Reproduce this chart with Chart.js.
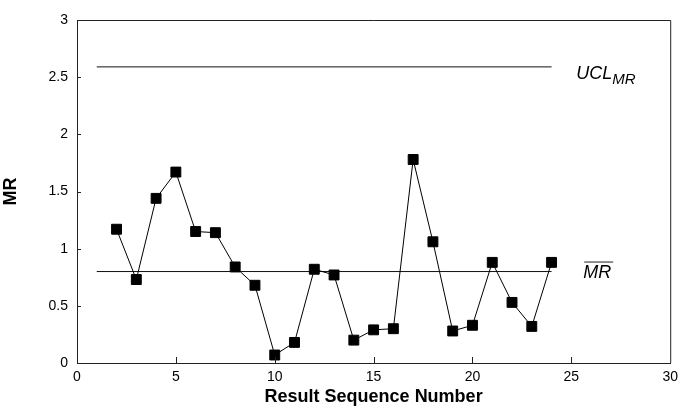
<!DOCTYPE html>
<html><head><meta charset="utf-8">
<script src="https://cdn.jsdelivr.net/npm/chart.js@4"></script>
<style>html,body{margin:0;padding:0;background:#fff}#c{display:block}</style>
</head><body>
<canvas id="c" width="684" height="408"></canvas>
<script>
const sequence = [2,3,4,5,6,7,8,9,10,11,12,13,14,15,16,17,18,19,20,21,22,23,24];
const mrValues = [1.17,0.73,1.44,1.67,1.15,1.14,0.84,0.68,0.07,0.18,0.82,0.77,0.20,0.29,0.30,1.78,1.06,0.28,0.33,0.88,0.53,0.32,0.88];
const uclValue = 2.59;
const mrBar = 0.80;
const lineRange = [1, 24];
const xTicks = [0,5,10,15,20,25,30];
const yTicks = [0,0.5,1,1.5,2,2.5,3];

const FONT = "'Liberation Sans', Arial, sans-serif";

const decor = {
  id: 'decor',
  afterDraw(chart) {
    const {ctx, chartArea: a, scales: {x, y}} = chart;
    ctx.save();
    ctx.strokeStyle = '#222';
    ctx.lineWidth = 1;
    ctx.beginPath();
    ctx.moveTo(a.left, a.top + 0.5); ctx.lineTo(a.right + 0.5, a.top + 0.5);
    ctx.lineTo(a.right + 0.5, a.bottom);
    ctx.stroke();
    ctx.beginPath();
    xTicks.forEach(v => {
      if (v <= 0 || v >= 30) return;
      const px = Math.round(x.getPixelForValue(v)) + 0.5;
      ctx.moveTo(px, a.bottom); ctx.lineTo(px, a.bottom - 6);
    });
    yTicks.forEach(v => {
      if (v <= 0 || v >= 3) return;
      const py = Math.round(y.getPixelForValue(v)) + 0.5;
      ctx.moveTo(a.left, py); ctx.lineTo(a.left + 4, py);
    });
    ctx.stroke();
    ctx.fillStyle = '#000';
    ctx.textBaseline = 'alphabetic';
    ctx.textAlign = 'left';
    let lx = x.getPixelForValue(25.25);
    let ly = y.getPixelForValue(uclValue) + 12;
    ctx.font = "italic 18px " + FONT;
    ctx.fillText('UCL', lx, ly);
    const w = ctx.measureText('UCL').width;
    ctx.font = "italic 15px " + FONT;
    ctx.fillText('MR', lx + w, ly + 5);
    lx = x.getPixelForValue(25.6);
    ly = y.getPixelForValue(mrBar) + 6;
    ctx.font = "italic 18px " + FONT;
    ctx.fillText('MR', lx, ly);
    const w2 = ctx.measureText('MR').width;
    ctx.beginPath();
    ctx.moveTo(lx + 1, ly - 15.5); ctx.lineTo(lx + w2 + 2, ly - 15.5);
    ctx.stroke();
    ctx.restore();
  }
};

new Chart(document.getElementById('c'), {
  type: 'scatter',
  data: {
    datasets: [
      {
        data: sequence.map((s, i) => ({x: s, y: mrValues[i]})),
        showLine: true,
        borderColor: '#000',
        borderWidth: 1,
        backgroundColor: '#000',
        pointStyle: 'rect',
        pointRadius: 7,
        pointHoverRadius: 7
      },
      {
        data: lineRange.map(v => ({x: v, y: uclValue})),
        showLine: true, borderColor: '#111', borderWidth: 1, pointRadius: 0
      },
      {
        data: lineRange.map(v => ({x: v, y: mrBar})),
        showLine: true, borderColor: '#111', borderWidth: 1, pointRadius: 0
      }
    ]
  },
  options: {
    responsive: false,
    animation: false,
    events: [],
    layout: {padding: {top: 20, right: 11, left: 0, bottom: 0}},
    plugins: {legend: {display: false}, tooltip: {enabled: false}},
    scales: {
      x: {
        type: 'linear', min: 0, max: 30,
        afterFit(s) { s.height = 45; },
        afterBuildTicks(s) { s.ticks = xTicks.map(v => ({value: v})); },
        grid: {display: false, drawTicks: false},
        border: {display: true, color: '#222', width: 1},
        ticks: {color: '#000', font: {family: FONT, size: 14}, padding: 6,
                callback: v => String(v)},
        title: {display: true, text: 'Result Sequence Number', color: '#000',
                font: {family: FONT, size: 18, weight: 'bold'}, padding: {top: 0, bottom: 0}}
      },
      y: {
        min: 0, max: 3,
        afterFit(s) { s.width = 77; },
        afterBuildTicks(s) { s.ticks = yTicks.map(v => ({value: v})); },
        grid: {display: false, drawTicks: false},
        border: {display: true, color: '#222', width: 1},
        ticks: {color: '#000', font: {family: FONT, size: 14}, padding: 9,
                callback: v => String(v)},
        title: {display: true, text: 'MR', color: '#000',
                font: {family: FONT, size: 18, weight: 'bold'}, padding: {top: 0, bottom: 6}}
      }
    }
  },
  plugins: [decor]
});
</script>
</body></html>
